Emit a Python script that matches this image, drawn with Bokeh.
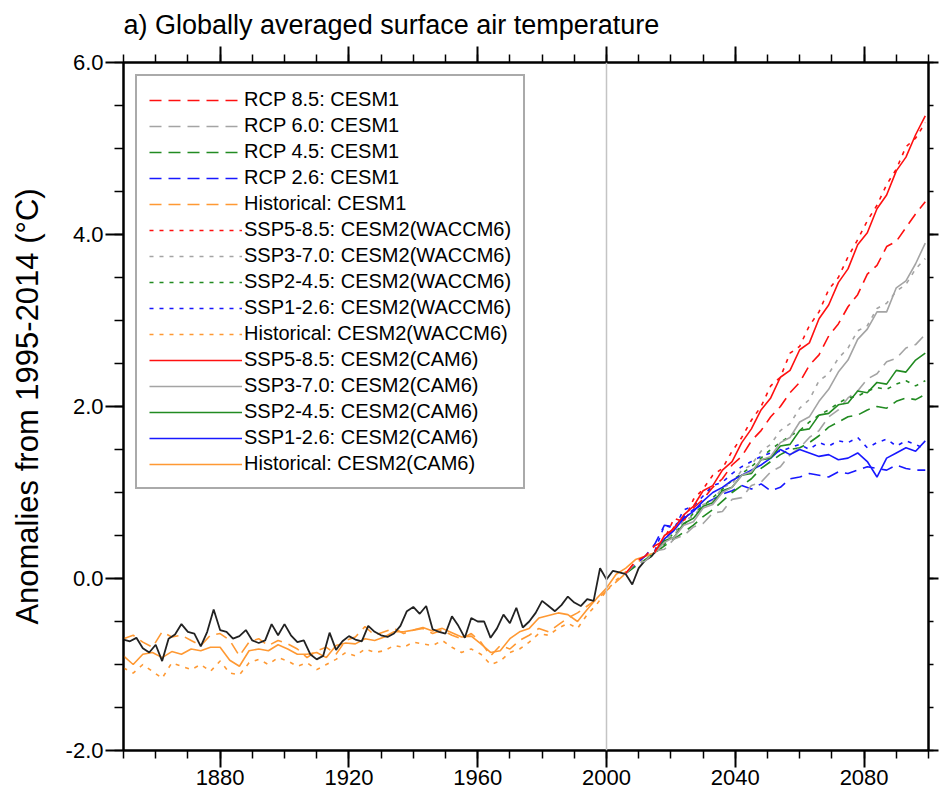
from bokeh.plotting import figure
from bokeh.models import (LinearAxis, FixedTicker, PrintfTickFormatter, Span,
                          Legend, LegendItem, Range1d, CustomLabelingPolicy)
from bokeh.embed import file_html
from bokeh.resources import INLINE

# ---------------- text ----------------
title_text = "a) Globally averaged surface air temperature"
y_label = "Anomalies from 1995-2014 (°C)"

# ---------------- ticks ----------------
x_major_ticks = [1880, 1920, 1960, 2000, 2040, 2080]
x_minor_ticks = [1850, 1860, 1870, 1880, 1890, 1900, 1910, 1920, 1930, 1940, 1950,
                 1960, 1970, 1980, 1990, 2000, 2010, 2020, 2030, 2040, 2050, 2060,
                 2070, 2080, 2090, 2100]
y_major_ticks = [-2, 0, 2, 4, 6]
y_minor_ticks = [-2.0, -1.5, -1.0, -0.5, 0.0, 0.5, 1.0, 1.5, 2.0, 2.5, 3.0, 3.5,
                 4.0, 4.5, 5.0, 5.5, 6.0]

# ---------------- years ----------------
obs_years = list(range(1850, 2017, 2))
cesm2_hist_years = list(range(1850, 2016, 3))
cesm1_hist_years = list(range(1850, 2007, 3))
ssp_years = list(range(2015, 2100, 3))
rcp_years = list(range(2006, 2100, 3))

# ---------------- series ----------------
obs = [-0.71, -0.73, -0.69, -0.81, -0.86, -0.77, -0.96, -0.70, -0.65, -0.53,
       -0.62, -0.64, -0.79, -0.62, -0.36, -0.60, -0.62, -0.70, -0.67, -0.60,
       -0.72, -0.75, -0.72, -0.53, -0.66, -0.53, -0.66, -0.74, -0.72, -0.88,
       -0.94, -0.90, -0.63, -0.83, -0.73, -0.67, -0.71, -0.73, -0.55, -0.62,
       -0.66, -0.68, -0.64, -0.55, -0.38, -0.33, -0.41, -0.32, -0.59, -0.62,
       -0.64, -0.44, -0.55, -0.69, -0.46, -0.50, -0.50, -0.69, -0.58, -0.42,
       -0.52, -0.34, -0.57, -0.50, -0.40, -0.26, -0.32, -0.38, -0.31, -0.21,
       -0.28, -0.32, -0.24, -0.26, 0.12, -0.01, 0.09, 0.07, 0.05, -0.07,
       0.12, 0.21, 0.26, 0.35]

hist_cam6 = [-0.90, -1.00, -0.88, -0.86, -0.92, -0.85, -0.88, -0.82, -0.84, -0.80,
             -0.80, -0.95, -1.02, -0.84, -0.82, -0.84, -0.77, -0.82, -0.88, -0.88,
             -0.86, -0.92, -0.78, -0.75, -0.76, -0.70, -0.72, -0.68, -0.62, -0.62,
             -0.60, -0.57, -0.61, -0.58, -0.63, -0.68, -0.67, -0.76, -0.86, -0.84,
             -0.70, -0.62, -0.58, -0.46, -0.43, -0.40, -0.42, -0.50, -0.36, -0.23,
             -0.11, 0.05, 0.12, 0.22, 0.26, 0.30]

hist_waccm6 = [-1.04, -1.10, -1.00, -1.08, -1.16, -0.98, -1.02, -1.06, -1.00, -1.08,
               -0.96, -1.10, -1.12, -0.98, -0.94, -1.00, -0.92, -0.96, -1.02, -0.98,
               -1.06, -1.00, -0.94, -0.86, -0.90, -0.82, -0.86, -0.84, -0.78, -0.80,
               -0.74, -0.76, -0.78, -0.72, -0.80, -0.86, -0.82, -0.88, -1.00, -0.96,
               -0.86, -0.82, -0.74, -0.64, -0.66, -0.58, -0.52, -0.58, -0.42, -0.30,
               -0.14, -0.02, 0.08, 0.18, 0.24, 0.32]

hist_cesm1 = [-0.70, -0.66, -0.74, -0.80, -0.62, -0.68, -0.66, -0.72, -0.78, -0.66,
              -0.64, -0.72, -0.90, -0.74, -0.70, -0.78, -0.72, -0.76, -0.82, -0.92,
              -0.84, -0.80, -0.88, -0.72, -0.68, -0.56, -0.66, -0.62, -0.58, -0.64,
              -0.60, -0.58, -0.64, -0.60, -0.66, -0.70, -0.64, -0.74, -0.90, -0.78,
              -0.82, -0.72, -0.66, -0.58, -0.62, -0.54, -0.46, -0.40, -0.32, -0.24,
              -0.14, -0.04, 0.06]

ssp585_cam6 = [0.30, 0.50, 0.58, 0.74, 0.84, 1.02, 1.08, 1.26, 1.36, 1.58,
               1.74, 1.96, 2.10, 2.34, 2.42, 2.66, 2.74, 3.02, 3.18, 3.44,
               3.60, 3.88, 4.02, 4.30, 4.46, 4.74, 4.90, 5.16, 5.38]
ssp370_cam6 = [0.30, 0.42, 0.48, 0.62, 0.66, 0.82, 0.86, 1.00, 1.06, 1.20,
               1.24, 1.38, 1.42, 1.58, 1.64, 1.82, 1.88, 2.06, 2.20, 2.40,
               2.54, 2.78, 2.90, 3.10, 3.10, 3.38, 3.46, 3.66, 3.90]
ssp245_cam6 = [0.30, 0.44, 0.48, 0.64, 0.70, 0.84, 0.88, 1.02, 1.06, 1.20,
               1.22, 1.38, 1.40, 1.54, 1.56, 1.72, 1.74, 1.90, 1.92, 2.02,
               2.04, 2.18, 2.16, 2.28, 2.26, 2.42, 2.40, 2.54, 2.62]
ssp126_cam6 = [0.30, 0.46, 0.56, 0.70, 0.78, 0.90, 1.00, 1.06, 1.14, 1.20,
               1.26, 1.32, 1.40, 1.50, 1.44, 1.50, 1.46, 1.42, 1.44, 1.38,
               1.40, 1.46, 1.36, 1.18, 1.40, 1.46, 1.52, 1.48, 1.60]

ssp585_waccm6 = [0.32, 0.46, 0.70, 0.66, 0.92, 1.04, 1.20, 1.28, 1.48, 1.64,
                 1.84, 2.00, 2.24, 2.34, 2.62, 2.70, 2.94, 3.10, 3.36, 3.50,
                 3.74, 3.94, 4.16, 4.34, 4.58, 4.76, 5.02, 5.12, 5.30]
ssp370_waccm6 = [0.30, 0.46, 0.50, 0.68, 0.72, 0.86, 0.90, 1.06, 1.10, 1.26,
                 1.32, 1.48, 1.56, 1.72, 1.80, 1.98, 2.08, 2.30, 2.38, 2.56,
                 2.68, 2.88, 2.94, 3.14, 3.20, 3.34, 3.42, 3.60, 3.72]
ssp245_waccm6 = [0.32, 0.40, 0.54, 0.62, 0.76, 0.84, 0.94, 1.04, 1.14, 1.22,
                 1.30, 1.40, 1.50, 1.58, 1.66, 1.72, 1.82, 1.90, 1.96, 2.04,
                 2.10, 2.12, 2.18, 2.22, 2.20, 2.26, 2.30, 2.24, 2.30]
ssp126_waccm6 = [0.32, 0.62, 0.58, 0.80, 0.84, 0.96, 1.08, 1.12, 1.22, 1.30,
                 1.36, 1.42, 1.46, 1.48, 1.52, 1.56, 1.50, 1.58, 1.54, 1.60,
                 1.58, 1.64, 1.52, 1.58, 1.62, 1.54, 1.60, 1.56, 1.50]

rcp85_cesm1 = [0.06, 0.20, 0.26, 0.38, 0.44, 0.60, 0.68, 0.82, 0.92, 1.06,
               1.16, 1.32, 1.42, 1.60, 1.72, 1.88, 2.00, 2.16, 2.28, 2.48,
               2.60, 2.82, 2.96, 3.16, 3.30, 3.54, 3.64, 3.86, 3.92, 4.08,
               4.24, 4.38]
rcp60_cesm1 = [0.06, 0.18, 0.20, 0.32, 0.34, 0.46, 0.50, 0.60, 0.64, 0.76,
               0.78, 0.92, 0.94, 1.08, 1.12, 1.24, 1.30, 1.44, 1.52, 1.64,
               1.72, 1.88, 1.96, 2.10, 2.18, 2.32, 2.38, 2.52, 2.56, 2.68,
               2.72, 2.84]
rcp45_cesm1 = [0.06, 0.14, 0.22, 0.30, 0.38, 0.46, 0.54, 0.62, 0.72, 0.80,
               0.90, 1.00, 1.08, 1.16, 1.28, 1.36, 1.44, 1.50, 1.52, 1.58,
               1.66, 1.76, 1.82, 1.88, 1.90, 1.96, 2.00, 1.98, 2.06, 2.10,
               2.08, 2.14]
rcp26_cesm1 = [0.06, 0.16, 0.26, 0.40, 0.62, 0.60, 0.72, 0.80, 0.86, 0.92,
               0.98, 1.02, 1.08, 1.04, 1.10, 1.02, 1.06, 1.16, 1.18, 1.22,
               1.20, 1.18, 1.24, 1.22, 1.26, 1.30, 1.28, 1.26, 1.32, 1.28,
               1.26, 1.26]

# ---------------- styles ----------------
RED = "#ff1010"
GRAY = "#a4a4a4"
GREEN = "#228b22"
BLUE = "#1818ff"
ORANGE = "#ff9933"
BLACK = "#222222"
DASH = "12 7"
DOT = "4 6"
LW = 1.6
FONT = "Liberation Sans"

p = figure(width=942, height=797, output_backend="svg", toolbar_location=None,
           x_range=Range1d(1850, 2100), y_range=Range1d(-2, 6),
           min_border_left=123, min_border_right=11, min_border_top=62,
           min_border_bottom=47)
p.xgrid.visible = False
p.ygrid.visible = False
p.outline_line_color = "black"
p.outline_line_width = 2
p.background_fill_color = "white"
p.border_fill_color = "white"

p.title.text = title_text
p.title.text_font = FONT
p.title.text_font_size = "27px"
p.title.text_font_style = "normal"
p.title.text_color = "black"
p.title.align = "left"
p.title.standoff = 6

xt = FixedTicker(ticks=x_major_ticks, minor_ticks=x_minor_ticks)
yt = FixedTicker(ticks=y_major_ticks, minor_ticks=y_minor_ticks)

no_labels = CustomLabelingPolicy(code="""
const all = Array.from(indices);
for (const i of all) { indices.unset(i); }
return indices;
""")


def style_axis(ax, ticker, tick_out=18, minor_out=9):
    ax.ticker = ticker
    ax.axis_line_width = 2
    ax.axis_line_color = "black"
    ax.major_tick_out = tick_out
    ax.major_tick_in = 0
    ax.minor_tick_out = minor_out
    ax.minor_tick_in = 0
    ax.major_tick_line_width = 2
    ax.minor_tick_line_width = 1.5
    ax.major_tick_line_color = "black"
    ax.minor_tick_line_color = "black"
    ax.major_label_text_font = FONT
    ax.major_label_text_color = "black"
    ax.major_label_text_font_size = "22px"
    ax.major_label_standoff = 2


style_axis(p.xaxis[0], xt, tick_out=17, minor_out=8)
style_axis(p.yaxis[0], yt)
p.yaxis[0].formatter = PrintfTickFormatter(format="%.1f")
p.yaxis[0].axis_label = y_label
p.yaxis[0].axis_label_text_font = FONT
p.yaxis[0].axis_label_text_font_size = "31px"
p.yaxis[0].axis_label_text_font_style = "normal"
p.yaxis[0].axis_label_text_color = "black"
p.yaxis[0].axis_label_standoff = 18

top_ax = LinearAxis(major_label_policy=no_labels)
style_axis(top_ax, xt, tick_out=16, minor_out=8)
top_ax.major_label_standoff = 0
top_ax.major_label_text_font_size = "1px"
p.add_layout(top_ax, "above")

right_ax = LinearAxis(major_label_policy=no_labels)
style_axis(right_ax, yt, tick_out=10, minor_out=5)
right_ax.major_label_standoff = 0
right_ax.major_label_text_font_size = "1px"
p.add_layout(right_ax, "right")

p.add_layout(Span(location=2000, dimension="height", line_color="#c4c4c4",
                  line_width=1.5))

# ---------------- lines ----------------
h_waccm = p.line(cesm2_hist_years, hist_waccm6, line_color=ORANGE, line_dash=DOT, line_width=LW)
h_cesm1 = p.line(cesm1_hist_years, hist_cesm1, line_color=ORANGE, line_dash=DASH, line_width=LW)
h_cam6 = p.line(cesm2_hist_years, hist_cam6, line_color=ORANGE, line_width=LW)
p.line(obs_years, obs, line_color=BLACK, line_width=1.8)

r26 = p.line(rcp_years, rcp26_cesm1, line_color=BLUE, line_dash=DASH, line_width=LW)
r45 = p.line(rcp_years, rcp45_cesm1, line_color=GREEN, line_dash=DASH, line_width=LW)
r60 = p.line(rcp_years, rcp60_cesm1, line_color=GRAY, line_dash=DASH, line_width=LW)
r85 = p.line(rcp_years, rcp85_cesm1, line_color=RED, line_dash=DASH, line_width=LW)

w126 = p.line(ssp_years, ssp126_waccm6, line_color=BLUE, line_dash=DOT, line_width=LW)
w245 = p.line(ssp_years, ssp245_waccm6, line_color=GREEN, line_dash=DOT, line_width=LW)
w370 = p.line(ssp_years, ssp370_waccm6, line_color=GRAY, line_dash=DOT, line_width=LW)
w585 = p.line(ssp_years, ssp585_waccm6, line_color=RED, line_dash=DOT, line_width=LW)

c126 = p.line(ssp_years, ssp126_cam6, line_color=BLUE, line_width=LW)
c245 = p.line(ssp_years, ssp245_cam6, line_color=GREEN, line_width=LW)
c370 = p.line(ssp_years, ssp370_cam6, line_color=GRAY, line_width=LW)
c585 = p.line(ssp_years, ssp585_cam6, line_color=RED, line_width=LW)

items = [
    LegendItem(label="RCP 8.5: CESM1", renderers=[r85]),
    LegendItem(label="RCP 6.0: CESM1", renderers=[r60]),
    LegendItem(label="RCP 4.5: CESM1", renderers=[r45]),
    LegendItem(label="RCP 2.6: CESM1", renderers=[r26]),
    LegendItem(label="Historical: CESM1", renderers=[h_cesm1]),
    LegendItem(label="SSP5-8.5: CESM2(WACCM6)", renderers=[w585]),
    LegendItem(label="SSP3-7.0: CESM2(WACCM6)", renderers=[w370]),
    LegendItem(label="SSP2-4.5: CESM2(WACCM6)", renderers=[w245]),
    LegendItem(label="SSP1-2.6: CESM2(WACCM6)", renderers=[w126]),
    LegendItem(label="Historical: CESM2(WACCM6)", renderers=[h_waccm]),
    LegendItem(label="SSP5-8.5: CESM2(CAM6)", renderers=[c585]),
    LegendItem(label="SSP3-7.0: CESM2(CAM6)", renderers=[c370]),
    LegendItem(label="SSP2-4.5: CESM2(CAM6)", renderers=[c245]),
    LegendItem(label="SSP1-2.6: CESM2(CAM6)", renderers=[c126]),
    LegendItem(label="Historical: CESM2(CAM6)", renderers=[h_cam6]),
]
legend = Legend(items=items, location="top_left", margin=12, padding=12,
                label_text_font=FONT, label_text_font_size="20px",
                label_text_color="black",
                glyph_width=93, glyph_height=20, label_height=20,
                label_standoff=2, spacing=3,
                border_line_color="#555555", border_line_width=2,
                background_fill_color="white", background_fill_alpha=1.0)
p.add_layout(legend, "center")

open("out.html", "w").write(file_html(p, INLINE))
